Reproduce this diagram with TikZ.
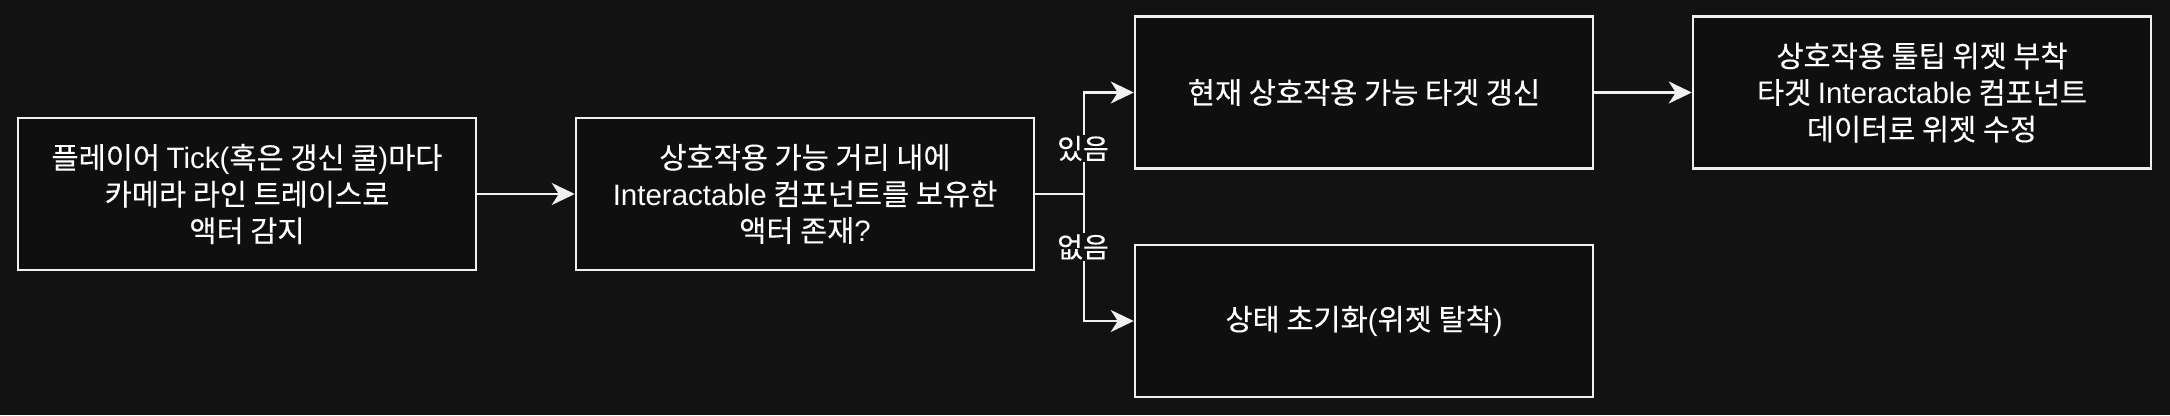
\documentclass[tikz,border=0pt]{standalone}
\usepackage{fontspec}
\setmainfont{Noto Sans CJK KR}[RawFeature={embolden=0.25}]
\newfontfamily\lat{Liberation Sans}
\usetikzlibrary{arrows.meta}
\definecolor{bgc}{HTML}{121212}
\definecolor{boxfill}{HTML}{0F0F0F}
\definecolor{linec}{HTML}{F0F0F0}
\tikzset{
  box/.style={draw=linec, line width=2.5pt, fill=boxfill, minimum width=458pt, minimum height=152pt,
    align=center, text=white, font=\fontsize{29.5pt}{36.6pt}\selectfont, inner sep=0pt},
  conn/.style={draw=linec, line width=2.5pt, -{Stealth[length=23pt,width=22pt,inset=7pt]}},
  lbl/.style={fill=bgc, text=white, font=\fontsize{28pt}{32pt}\selectfont, inner sep=1pt}
}
\begin{document}
\begin{tikzpicture}[x=1pt,y=-1pt]
\fill[bgc] (0,0) rectangle (2170,415);
\useasboundingbox (0,0) rectangle (2170,415);
\node[box] (b1) at (247,194) {플레이어 {\lat Tick(}혹은 갱신 쿨{\lat )}마다\\카메라 라인 트레이스로\\액터 감지};
\node[box] (b2) at (805,194) {상호작용 가능 거리 내에\\{\lat Interactable} 컴포넌트를 보유한\\액터 존재{\lat ?}};
\node[box] (b3) at (1364,92.5) {현재 상호작용 가능 타겟 갱신};
\node[box] (b4) at (1922,92.5) {상호작용 툴팁 위젯 부착\\타겟 {\lat Interactable} 컴포넌트\\데이터로 위젯 수정};
\node[box] (b5) at (1364,321) {상태 초기화{\lat (}위젯 탈착{\lat )}};
\coordinate (j) at (1084,194);
\draw[conn] (b1.east) -- (b2.west);
\draw[conn] (b2.east) -- (j) |- (b3.west);
\draw[conn] (j) |- (b5.west);
\draw[conn] (b3.east) -- (b4.west);
\node[lbl] (yes) at (1083,148.5) {있음};
\node[lbl] (no) at (1083,247) {없음};
\end{tikzpicture}
\end{document}
